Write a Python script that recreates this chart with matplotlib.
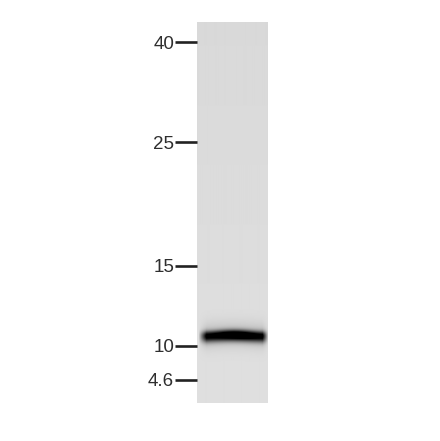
import numpy as np
import matplotlib
matplotlib.use("Agg")
import matplotlib.pyplot as plt

marker_labels = ["40", "25", "15", "10", "4.6"]
marker_positions = [20, 120, 244, 324, 358]   # migration distance from top of lane
band_position = 313
band_strength = 0.82
lane_top_gray = 0.85
lane_bottom_gray = 0.875

W, H = 440, 441
fig = plt.figure(figsize=(W / 100, H / 100), dpi=100, facecolor="white")
ax = fig.add_axes([197 / W, 1 - 403 / H, 70 / W, 381 / H])

ny, nx = 381, 70
yy, xx = np.mgrid[0:ny, 0:nx]
img = lane_top_gray + (lane_bottom_gray - lane_top_gray) * yy / ny
# band sits a little higher in the middle of the lane than at its sides
centre = band_position - 0.7 * np.cos((xx - 35) / 35 * np.pi)
sig_up = 4.8
sig_dn = 6.0
d = yy - centre
prof = np.exp(-np.where(d < 0, (d / sig_up) ** 2, (d / sig_dn) ** 2) ** 1.1)
edge = np.clip((xx - 1) / 8, 0, 1) * np.clip((nx - xx) / 6, 0, 1)
mod = 1 + 0.12 * np.cos((xx - 38) / 9)
halo = 0.14 * np.exp(-(d / 12) ** 2) * edge
img = img - np.clip(band_strength * 1.12 * prof * edge * mod, 0, band_strength) - halo
img = np.clip(img, 0, 1)

ax.imshow(img, cmap="gray", vmin=0, vmax=1, extent=[0, nx, ny, 0], aspect="auto",
          interpolation="bilinear")
ax.set_xticks([])
ax.set_yticks(marker_positions)
ax.set_yticklabels(marker_labels, fontfamily="Liberation Sans", fontsize=13.5,
                   color="#2e2e2e")
ax.tick_params(axis="y", length=15.5, width=1.9, color="#222222", pad=1)
for s in ax.spines.values():
    s.set_visible(False)

fig.savefig("out.png", dpi=100, facecolor="white")
